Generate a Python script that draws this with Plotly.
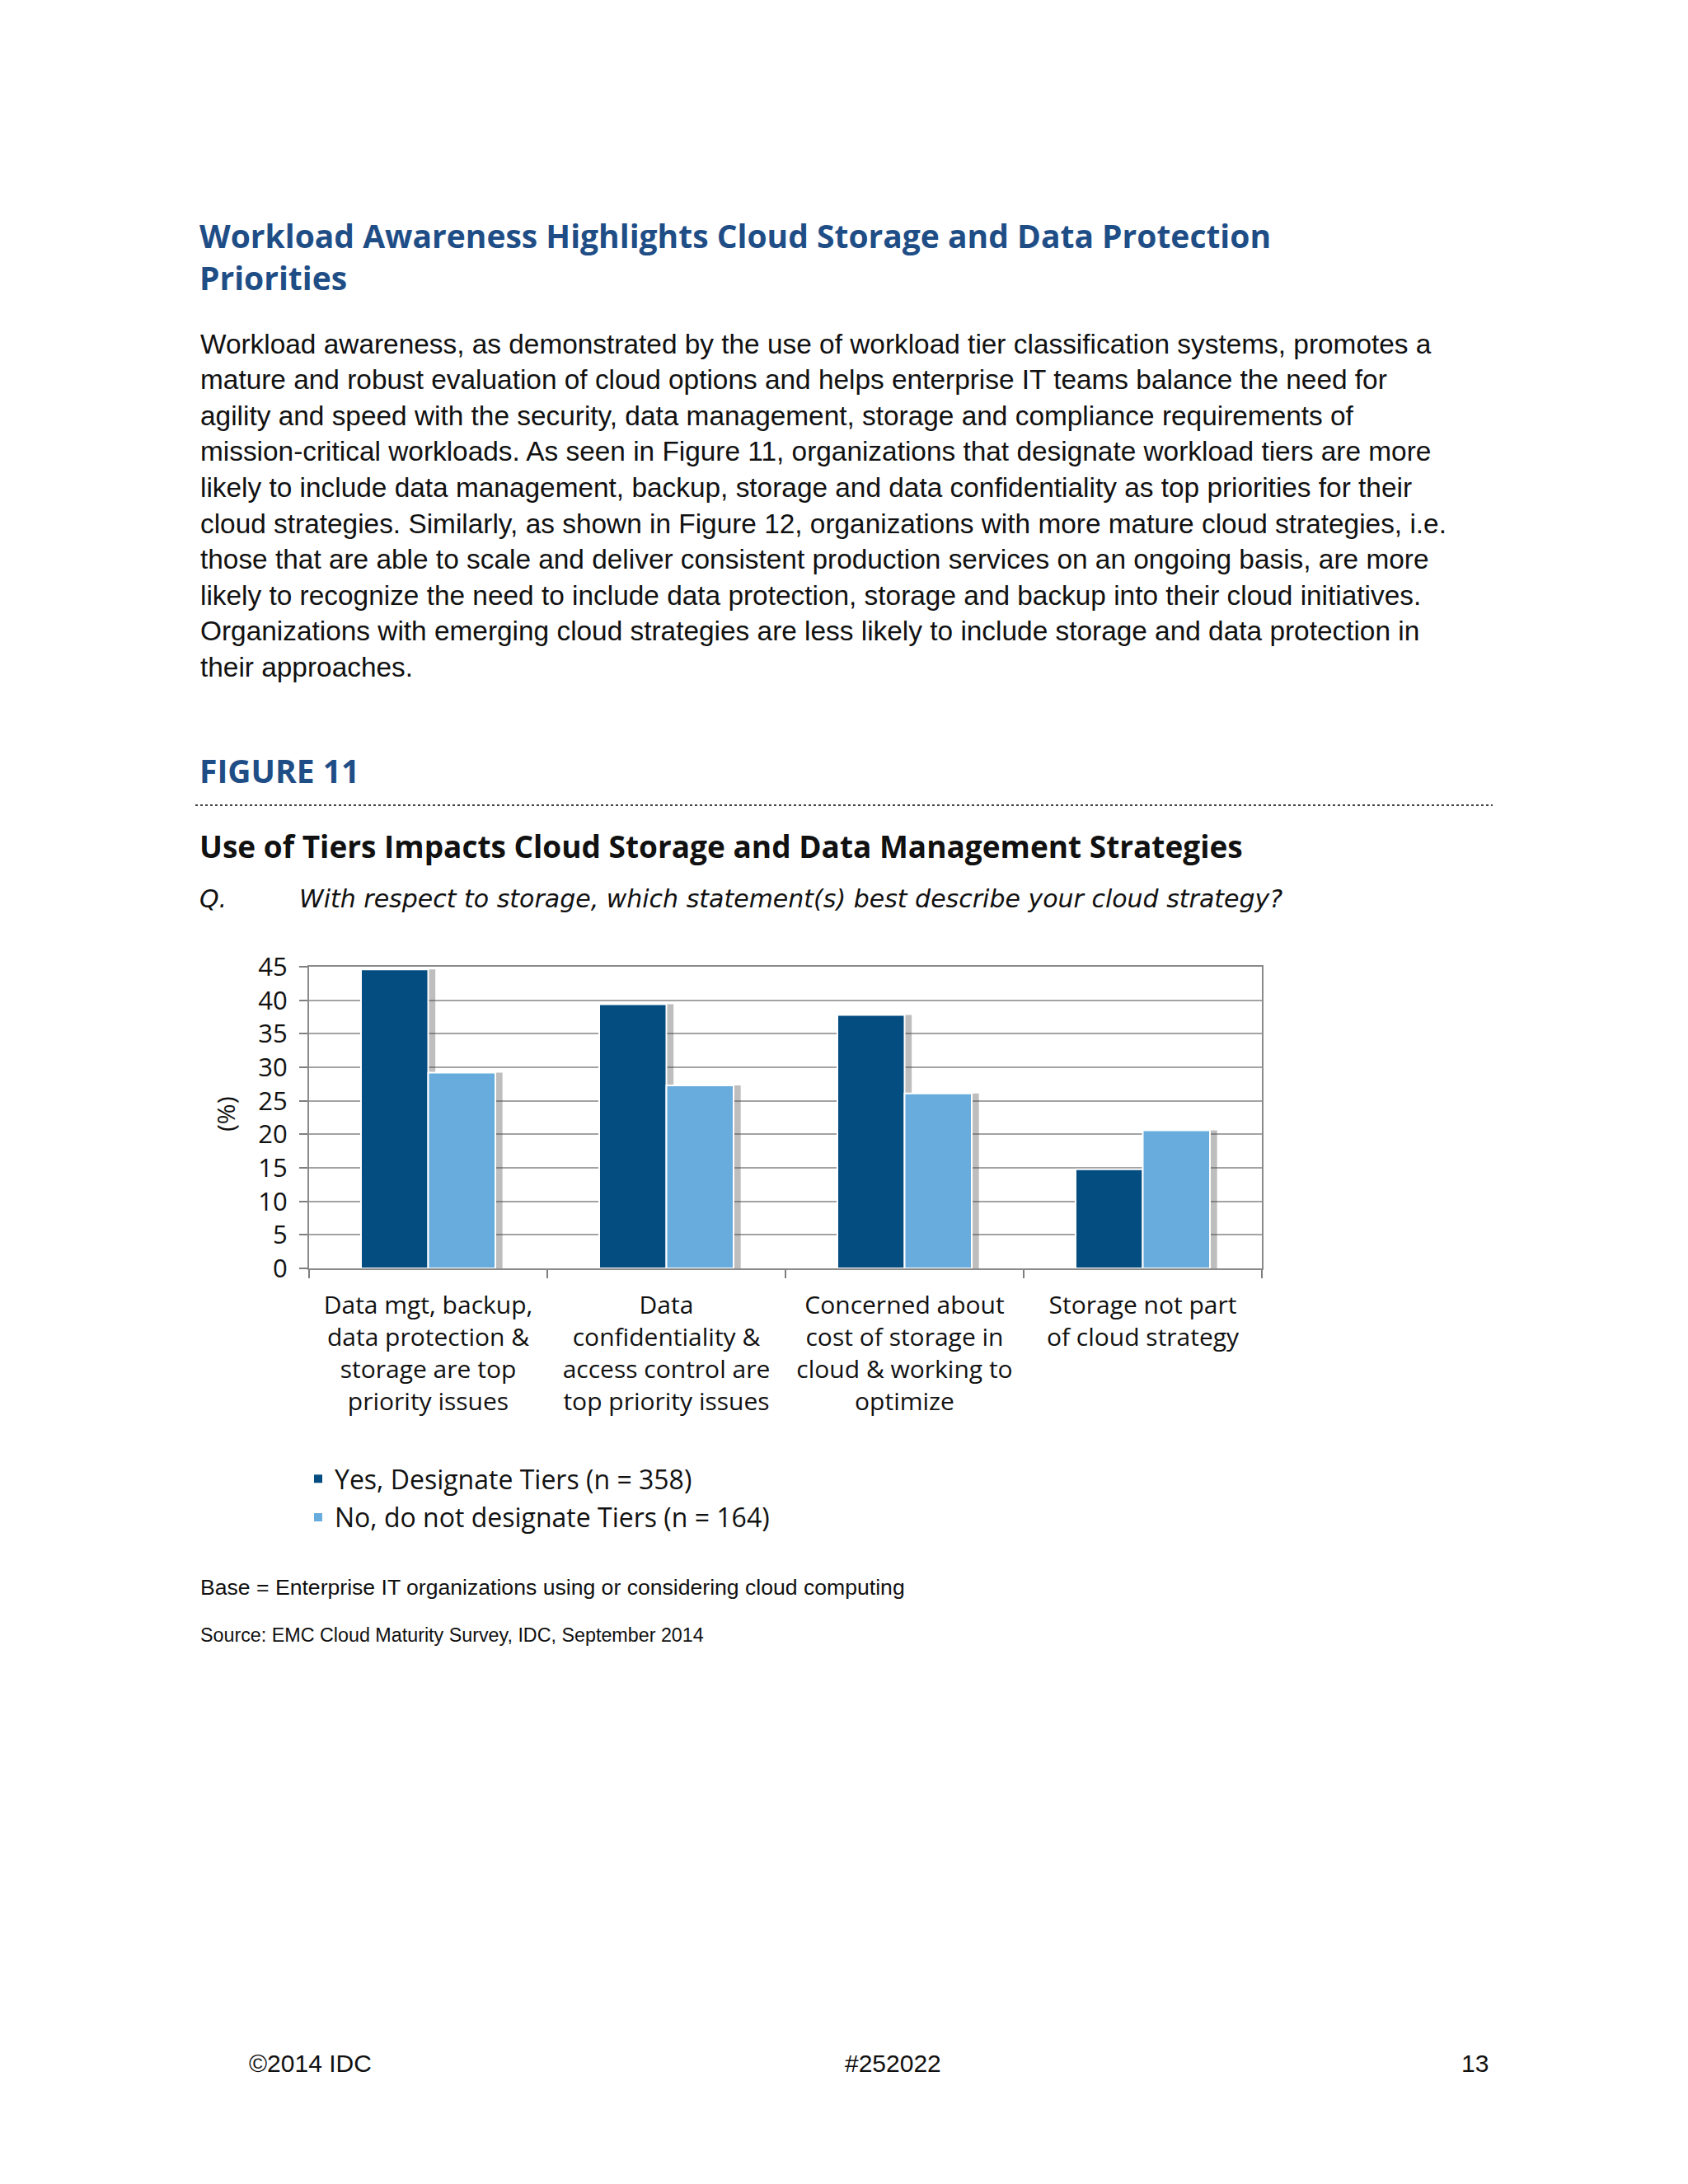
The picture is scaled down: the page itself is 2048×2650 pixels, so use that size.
import plotly.graph_objects as go

# ---------------- data ----------------
categories = [
    "Data mgt, backup,<br>data protection &<br>storage are top<br>priority issues",
    "Data<br>confidentiality &<br>access control are<br>top priority issues",
    "Concerned about<br>cost of storage in<br>cloud & working to<br>optimize",
    "Storage not part<br>of cloud strategy",
]
yes_values = [44.6, 39.4, 37.8, 14.8]
no_values = [29.2, 27.3, 26.1, 20.6]
series_names = ["Yes, Designate Tiers (n = 358)", "No, do not designate Tiers (n = 164)"]
y_tick_values = [0, 5, 10, 15, 20, 25, 30, 35, 40, 45]

body_lines = [
    "Workload awareness, as demonstrated by the use of workload tier classification systems, promotes a",
    "mature and robust evaluation of cloud options and helps enterprise IT teams balance the need for",
    "agility and speed with the security, data management, storage and compliance requirements of",
    "mission-critical workloads. As seen in Figure 11, organizations that designate workload tiers are more",
    "likely to include data management, backup, storage and data confidentiality as top priorities for their",
    "cloud strategies. Similarly, as shown in Figure 12, organizations with more mature cloud strategies, i.e.",
    "those that are able to scale and deliver consistent production services on an ongoing basis, are more",
    "likely to recognize the need to include data protection, storage and backup into their cloud initiatives.",
    "Organizations with emerging cloud strategies are less likely to include storage and data protection in",
    "their approaches.",
]

# ---------------- layout helpers ----------------
PAGE_OFF = 8  # default body margin of the html page
W_FIG, H_FIG = 2048 - 2 * PAGE_OFF, 2650 - 2 * PAGE_OFF
L, R, T, B = 375, 1531, 1173, 1539  # plot area in page pixels
PW, PH = R - L, B - T


def px(x):
    return (x - L) / PW


def py(y):
    return (B - y) / PH


DARK = "#044d80"
LIGHT = "#67acdc"
TITLE_BLUE = "#1f4e87"
CHART_FONT = "Open Sans"
BODY_FONT = "Liberation Sans"

BAR_W = 0.282
SHADOW_SHIFT = 0.03

fig = go.Figure()

# soft shadows behind the bars
for vals, off in ((yes_values, -BAR_W), (no_values, 0.0)):
    fig.add_trace(go.Bar(
        x=categories, y=vals, offset=off + SHADOW_SHIFT, width=BAR_W,
        marker=dict(color="rgba(70,70,70,0.35)", line=dict(width=0)),
        showlegend=False, hoverinfo="skip",
    ))

fig.add_trace(go.Bar(
    x=categories, y=yes_values, name=series_names[0], offset=-BAR_W, width=BAR_W,
    legendgroup="yes",
    marker=dict(color=DARK, line=dict(color="white", width=2)),
))
fig.add_trace(go.Bar(
    x=categories, y=no_values, name=series_names[1], offset=0.0, width=BAR_W,
    legendgroup="no",
    marker=dict(color=LIGHT, line=dict(color="white", width=2)),
))

annotations = []


def txt(text, x, y, size, family, color="#111111", xanchor="left", bold=False, italic=False, angle=0):
    if bold:
        text = "<b>" + text + "</b>"
    if italic:
        text = "<i>" + text + "</i>"
    annotations.append(dict(
        text=text, x=px(x), y=py(y), xref="paper", yref="paper",
        xanchor=xanchor, yanchor="middle", showarrow=False, textangle=angle, align="left",
        font=dict(size=size, family=family, color=color),
    ))


# heading (two lines in one text block)
txt("Workload Awareness Highlights Cloud Storage and Data Protection<br>Priorities", 240, 311, 39,
    CHART_FONT, TITLE_BLUE, bold=True)

# body paragraph
for i, line in enumerate(body_lines):
    txt(line, 241, 417 + i * 43.6, 33.4, BODY_FONT, "#111111")

txt("FIGURE 11", 240, 934, 39, CHART_FONT, TITLE_BLUE, bold=True)
txt("Use of Tiers Impacts Cloud Storage and Data Management Strategies", 240, 1026, 37, CHART_FONT, "#111111", bold=True)
txt("Q.", 240, 1090, 30, "DejaVu Sans", "#111111", italic=True)
txt("With respect to storage, which statement(s) best describe your cloud strategy?", 361, 1090, 30,
    "DejaVu Sans", "#111111", italic=True)

# y axis title
txt("(%)", 273, 1352, 30, CHART_FONT, "#111111", xanchor="center", angle=-90)

# notes
txt("Base = Enterprise IT organizations using or considering cloud computing", 241, 1926, 26.6, BODY_FONT, "#111111")
txt("Source: EMC Cloud Maturity Survey, IDC, September 2014", 241, 1984, 23.3, BODY_FONT, "#111111")

# footer
txt("©2014 IDC", 300, 2503, 30, BODY_FONT, "#111111")
txt("#252022", 1083, 2503, 30, BODY_FONT, "#111111", xanchor="center")
txt("13", 1808, 2503, 30, BODY_FONT, "#111111", xanchor="right")

shapes = [dict(
    type="line", xref="paper", yref="paper",
    x0=px(237), x1=px(1811), y0=py(977), y1=py(977),
    line=dict(color="#444444", width=2, dash="dot"),
)]

fig.update_layout(
    width=W_FIG, height=H_FIG,
    margin=dict(l=L - PAGE_OFF, r=W_FIG - (R - PAGE_OFF), t=T - PAGE_OFF, b=H_FIG - (B - PAGE_OFF),
                autoexpand=False),
    paper_bgcolor="white", plot_bgcolor="white",
    barmode="overlay",
    showlegend=True,
    legend=dict(
        x=px(366), y=py(1767), xanchor="left", yanchor="top",
        font=dict(size=32, family=CHART_FONT, color="#111111"),
        bgcolor="rgba(0,0,0,0)", tracegroupgap=2, traceorder="grouped",
    ),
    annotations=annotations,
    shapes=shapes,
    font=dict(family=CHART_FONT, color="#111111"),
)

fig.update_xaxes(
    type="category", categoryorder="array", categoryarray=categories,
    tickson="boundaries", ticks="outside", ticklen=10, tickwidth=2, tickcolor="#7f7f7f",
    showline=True, linecolor="#8a8a8a", linewidth=2, mirror=True,
    showgrid=False, tickfont=dict(size=30, family=CHART_FONT, color="#111111"),
    ticklabelstandoff=17,
)
fig.update_yaxes(
    range=[0, 45], tickvals=y_tick_values, ticktext=[str(v) for v in y_tick_values],
    ticks="outside", ticklen=10, tickwidth=2, tickcolor="#7f7f7f",
    showline=True, linecolor="#8a8a8a", linewidth=2, mirror=True,
    showgrid=True, gridcolor="#a3a3a3", gridwidth=2,
    tickfont=dict(size=31, family=CHART_FONT, color="#111111"),
    ticklabelstandoff=8, zeroline=False,
)

fig.write_html("out.html")
